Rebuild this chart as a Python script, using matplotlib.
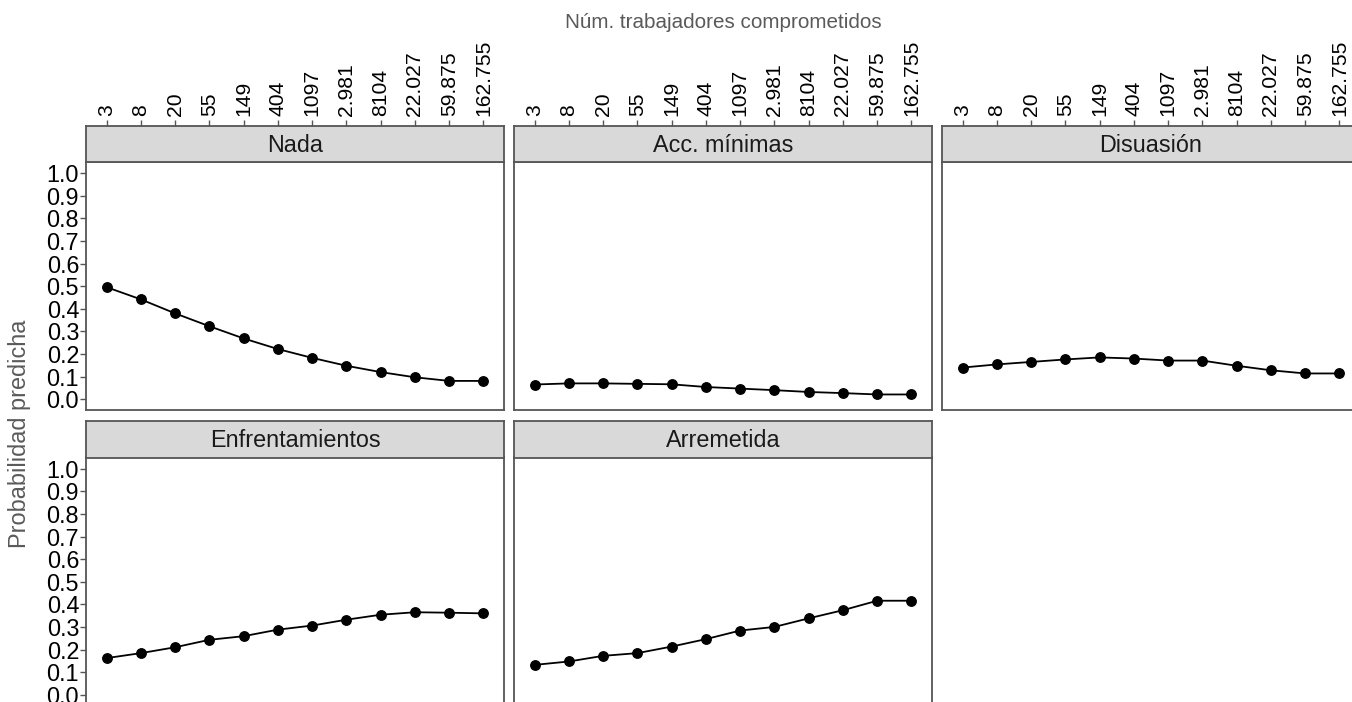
import matplotlib
matplotlib.use('Agg')
import matplotlib.pyplot as plt
import numpy as np

# Datos
x_labels = ['3', '8', '20', '55', '149', '404', '1097', '2.981', '8104',
            '22.027', '59.875', '162.755']
nada = [0.496, 0.442, 0.380, 0.323, 0.269, 0.222, 0.183, 0.148, 0.120, 0.097, 0.081, 0.081]
acc_minimas = [0.065, 0.070, 0.070, 0.068, 0.066, 0.054, 0.047, 0.040, 0.032, 0.027, 0.021, 0.021]
disuasion = [0.140, 0.154, 0.165, 0.176, 0.185, 0.180, 0.171, 0.171, 0.148, 0.128, 0.114, 0.114]
enfrentamientos = [0.162, 0.184, 0.210, 0.243, 0.259, 0.288, 0.306, 0.332, 0.354, 0.365, 0.363, 0.360]
arremetida = [0.132, 0.147, 0.172, 0.184, 0.213, 0.246, 0.284, 0.300, 0.338, 0.374, 0.416, 0.416]

paneles = ['Nada', 'Acc. mínimas', 'Disuasión', 'Enfrentamientos', 'Arremetida']
series = [nada, acc_minimas, disuasion, enfrentamientos, arremetida]

plt.rcParams['font.family'] = ['Liberation Sans', 'DejaVu Sans']

W, H = 1352, 702
fig = plt.figure(figsize=(W / 100, H / 100), dpi=100)


def rect(x0, y0, x1, y1):
    # pixeles (desde arriba) -> coordenadas de figura
    return [x0 / W, 1 - y1 / H, (x1 - x0) / W, (y1 - y0) / H]


cols = [(86, 504), (514, 932), (942, 1360)]
filas = [(126, 162, 410.5), (421, 457.5, 706)]

borde = '#555555'
x = np.arange(1, len(x_labels) + 1)

for i, (nombre, vals) in enumerate(zip(paneles, series)):
    fila, col = divmod(i, 3)
    x0, x1 = cols[col]
    s0, p0, p1 = filas[fila]

    ax = fig.add_axes(rect(x0, p0, x1, p1))
    ax.plot(x, vals, color='black', lw=1.3, marker='o', ms=6.8, zorder=3)
    ax.set_xlim(0.4, len(x_labels) + 0.6)
    ax.set_ylim(-0.05, 1.05)
    ax.set_xticks([])
    ax.set_yticks(np.arange(0, 1.01, 0.1))
    if col == 0:
        ax.set_yticklabels(['%.1f' % v for v in np.arange(0, 1.01, 0.1)], fontsize=16.8)
        ax.tick_params(axis='y', length=4, width=1, color=borde, pad=1, labelcolor='black')
    else:
        ax.tick_params(axis='y', length=0, labelleft=False)
    for sp in ax.spines.values():
        sp.set_color(borde)
        sp.set_linewidth(1.3)

    # franja del titulo del panel
    st = fig.add_axes(rect(x0, s0, x1, p0))
    st.set_facecolor('#d9d9d9')
    st.set_xlim(0.4, len(x_labels) + 0.6)
    st.set_yticks([])
    for sp in st.spines.values():
        sp.set_color(borde)
        sp.set_linewidth(1.3)
    st.text(0.5, 0.47, nombre, transform=st.transAxes, ha='center', va='center',
            fontsize=16.8, color='#1a1a1a')
    if fila == 0:
        st.xaxis.tick_top()
        st.set_xticks(x)
        st.set_xticklabels(x_labels, rotation=90, fontsize=15.2)
        st.tick_params(axis='x', length=4, width=1, color=borde, pad=3.5, labelcolor='black')
    else:
        st.set_xticks([])

fig.text(723 / W, 1 - 23 / H, 'Núm. trabajadores comprometidos', ha='center', va='center',
         fontsize=14.9, color='#5a5a5a')
fig.text(20 / W, 1 - 434 / H, 'Probabilidad predicha', ha='center', va='center',
         rotation=90, fontsize=16.9, color='#5a5a5a')

fig.savefig('out.png', dpi=100)
